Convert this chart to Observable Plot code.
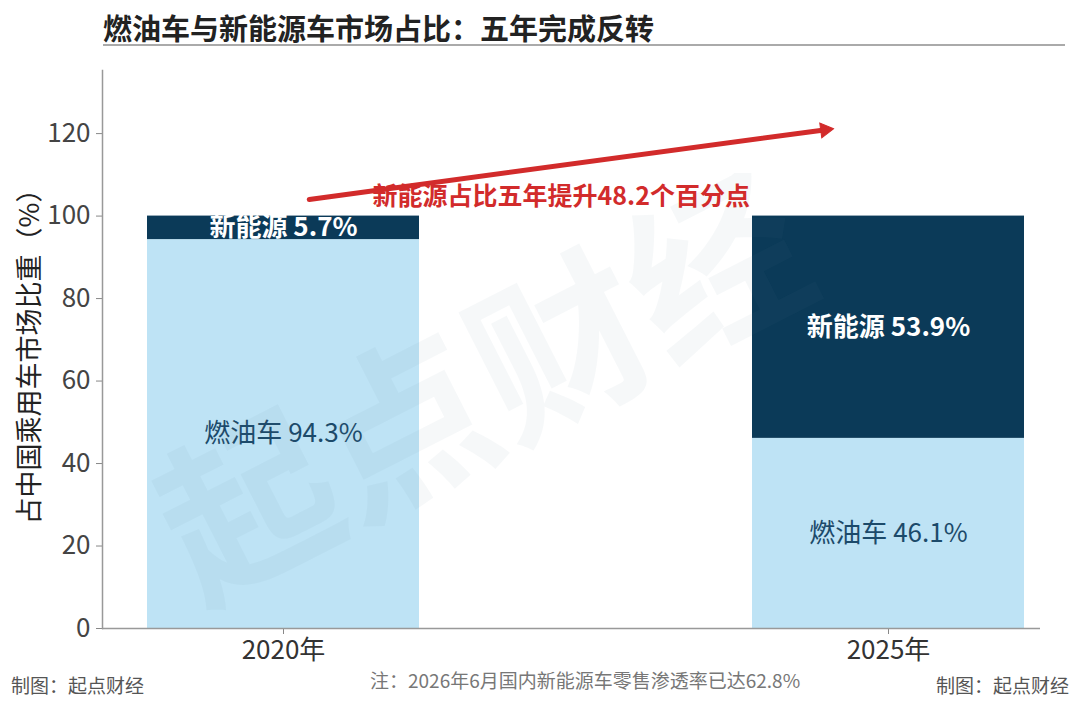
<!DOCTYPE html>
<html><head><meta charset="utf-8">
<script src="https://cdn.jsdelivr.net/npm/d3@7"></script>
<script src="https://cdn.jsdelivr.net/npm/@observablehq/plot@0.6"></script>
<style>
body{margin:0;background:#fff;font-family:"Noto Sans CJK SC","Noto Sans",sans-serif;}
#page{position:relative;width:1080px;height:705px;overflow:hidden;}
#title{position:absolute;left:103px;top:7px;font-size:29px;font-weight:700;color:#222;white-space:nowrap;line-height:40px;}
#rule{position:absolute;left:103px;top:44px;width:962px;height:2px;background:#aaa;}
#chart{position:absolute;left:0;top:55px;}
.foot{position:absolute;font-size:19px;color:#555;white-space:nowrap;line-height:24px;}
</style></head>
<body><div id="page">
<div id="title">燃油车与新能源车市场占比：五年完成反转</div>
<div id="rule"></div>
<div id="chart"></div>
<div class="foot" style="left:11px;top:673px;">制图：起点财经</div>
<div class="foot" style="left:370px;top:668px;color:#777;">注：2026年6月国内新能源车零售渗透率已达62.8%</div>
<div class="foot" style="left:936px;top:673px;">制图：起点财经</div>
</div>
<script>
const years = ["2020年", "2025年"];
const fuelShare = [94.3, 46.1];
const nevShare = [5.7, 53.9];
const seriesNames = ["燃油车", "新能源"];
const yTicks = [0, 20, 40, 60, 80, 100, 120];
const arrowY = [103.2, 123.0];
const arrowHeadY = 120.9;
const annotationY = 104.7;
const annotationText = "新能源占比五年提升48.2个百分点";
const watermark = "起点财经";

const rows = [];
years.forEach((yr, i) => {
  rows.push({year: yr, type: seriesNames[0], value: fuelShare[i], mid: fuelShare[i] / 2});
  rows.push({year: yr, type: seriesNames[1], value: nevShare[i], mid: fuelShare[i] + nevShare[i] / 2});
});

const font = "Noto Sans CJK SC";
const red = "#d22b2b";
const chart = Plot.plot({
  width: 1080, height: 620,
  marginLeft: 102, marginRight: 40, marginTop: 15, marginBottom: 47,
  style: {fontFamily: font, fontSize: "26px", color: "#444", background: "transparent"},
  x: {domain: years, range: [146, 1024], paddingInner: 0.551, paddingOuter: 0, label: null},
  y: {domain: [0, 135.3], ticks: yTicks, label: null},
  color: {domain: seriesNames, range: ["#bee3f5", "#0b3a58"]},
  marks: [
    Plot.barY(rows, {x: "year", y: "value", fill: "type", order: seriesNames}),
    Plot.text(rows.filter(d => d.type === seriesNames[0]), {x: "year", y: "mid", text: d => `${d.type} ${d.value}%`, fill: "#1c4a6a", fontSize: 26}),
    Plot.text(rows.filter(d => d.type === seriesNames[1]), {x: "year", y: "mid", text: d => `${d.type} ${d.value}%`, fill: "#fff", fontSize: 26, fontWeight: "bold"}),
    Plot.text([watermark], {frameAnchor: "middle", text: d => d, dx: -85, dy: 45, rotate: -27, fontSize: 175, fontWeight: "bold", fill: "#5a7890", fillOpacity: 0.055}),
    Plot.arrow([0], {x1: () => years[0], x2: () => years[1], y1: () => arrowY[0], y2: () => arrowY[1], stroke: red, strokeWidth: 5, headLength: 0, insetStart: 26, insetEnd: 63}),
    Plot.dot([0], {x: () => years[1], y: () => arrowHeadY, dx: -63.5, symbol: "triangle", r: 5.5, fill: red, stroke: red, strokeWidth: 1, rotate: 82.3}),
    Plot.text([annotationText], {x: () => years[0], y: () => annotationY, text: d => d, textAnchor: "start", dx: 89, fill: red, fontSize: 25, fontWeight: "bold"}),
    Plot.axisX({tickSize: 6, tickPadding: 6, fontSize: 26, stroke: "#888", color: "#333"}),
    Plot.axisY({ticks: yTicks, tickSize: 6, tickPadding: 6, fontSize: 26, stroke: "#888"}),
    Plot.ruleY([0], {stroke: "#999", strokeWidth: 1.5}),
    Plot.frame({anchor: "left", stroke: "#999", strokeWidth: 1.5}),
  ]
});
document.getElementById("chart").appendChild(chart);
// y-axis title
const ylab = document.createElement("div");
ylab.textContent = "占中国乘用车市场比重（%）";
ylab.style.cssText = "position:absolute;left:27px;top:350px;transform:translate(-50%,-50%) rotate(-90deg);font-size:27px;color:#222;white-space:nowrap;";
document.getElementById("page").appendChild(ylab);
</script>
</body></html>
